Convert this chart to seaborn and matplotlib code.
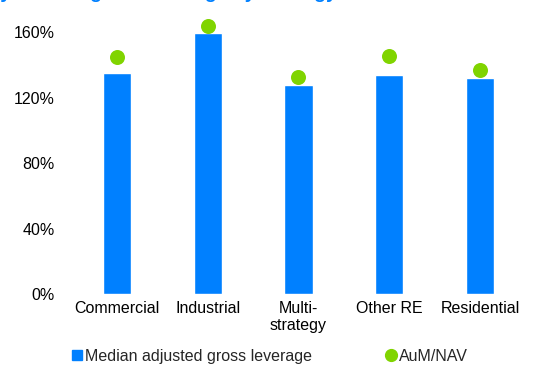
import matplotlib
matplotlib.use('Agg')
import matplotlib.pyplot as plt
import seaborn as sns
from matplotlib.lines import Line2D

# Data
categories = ['Commercial', 'Industrial', 'Multi-\nstrategy', 'Other RE', 'Residential']
leverage = [135, 159.5, 128, 134, 132]      # median adjusted gross leverage (%)
aum_nav = [144.5, 163.5, 132.5, 145.5, 137]  # AuM/NAV (%)

blue = '#0080FF'
green = '#80D400'

sns.set_style('white')
plt.rcParams['font.family'] = ['Liberation Sans', 'DejaVu Sans']

fig = plt.figure(figsize=(5.33, 3.69), dpi=100)
ax = fig.add_axes([0.134, 0.203, 0.852, 0.710])

# Bars
sns.barplot(x=categories, y=leverage, color=blue, width=0.31,
            saturation=1, ax=ax)

# Dots
sns.stripplot(x=categories, y=aum_nav, color=green, jitter=False,
              size=10.8, linewidth=0, ax=ax, zorder=3)
for c in ax.collections:
    c.set_clip_on(False)

ax.set_ylim(0, 160)
ax.set_yticks([0, 40, 80, 120, 160])
ax.set_yticklabels(['0%', '40%', '80%', '120%', '160%'])
ax.set_xlim(-0.5, 4.5)
ax.tick_params(axis='y', length=0, pad=12, labelsize=11.5, labelcolor='black')
ax.tick_params(axis='x', length=0, pad=5, labelsize=11.5, labelcolor='black')
ax.set_xlabel('')
ax.set_ylabel('')
sns.despine(ax=ax, left=True, bottom=True)

# Title (cut off at top of image in the reference, only descenders show)
fig.text(337 / 533, 1 + 2.5 / 369,
         'Real estate fund leverage: quarterly median gross leverage by strategy',
         ha='right', va='baseline', fontsize=14, fontweight='bold', color=blue)

# Legend
handles = [
    Line2D([], [], marker='s', linestyle='', color=blue, markersize=7),
    Line2D([], [], marker='o', linestyle='', color=green, markersize=8.5),
]
fig.legend(handles, ['Median adjusted gross leverage', 'AuM/NAV'],
           loc='center left', bbox_to_anchor=(0.122, 0.034), ncol=2,
           frameon=False, fontsize=11.5, handlelength=0.7,
           handletextpad=0.15, columnspacing=4.6, borderaxespad=0)

fig.savefig('out.png', dpi=100)
